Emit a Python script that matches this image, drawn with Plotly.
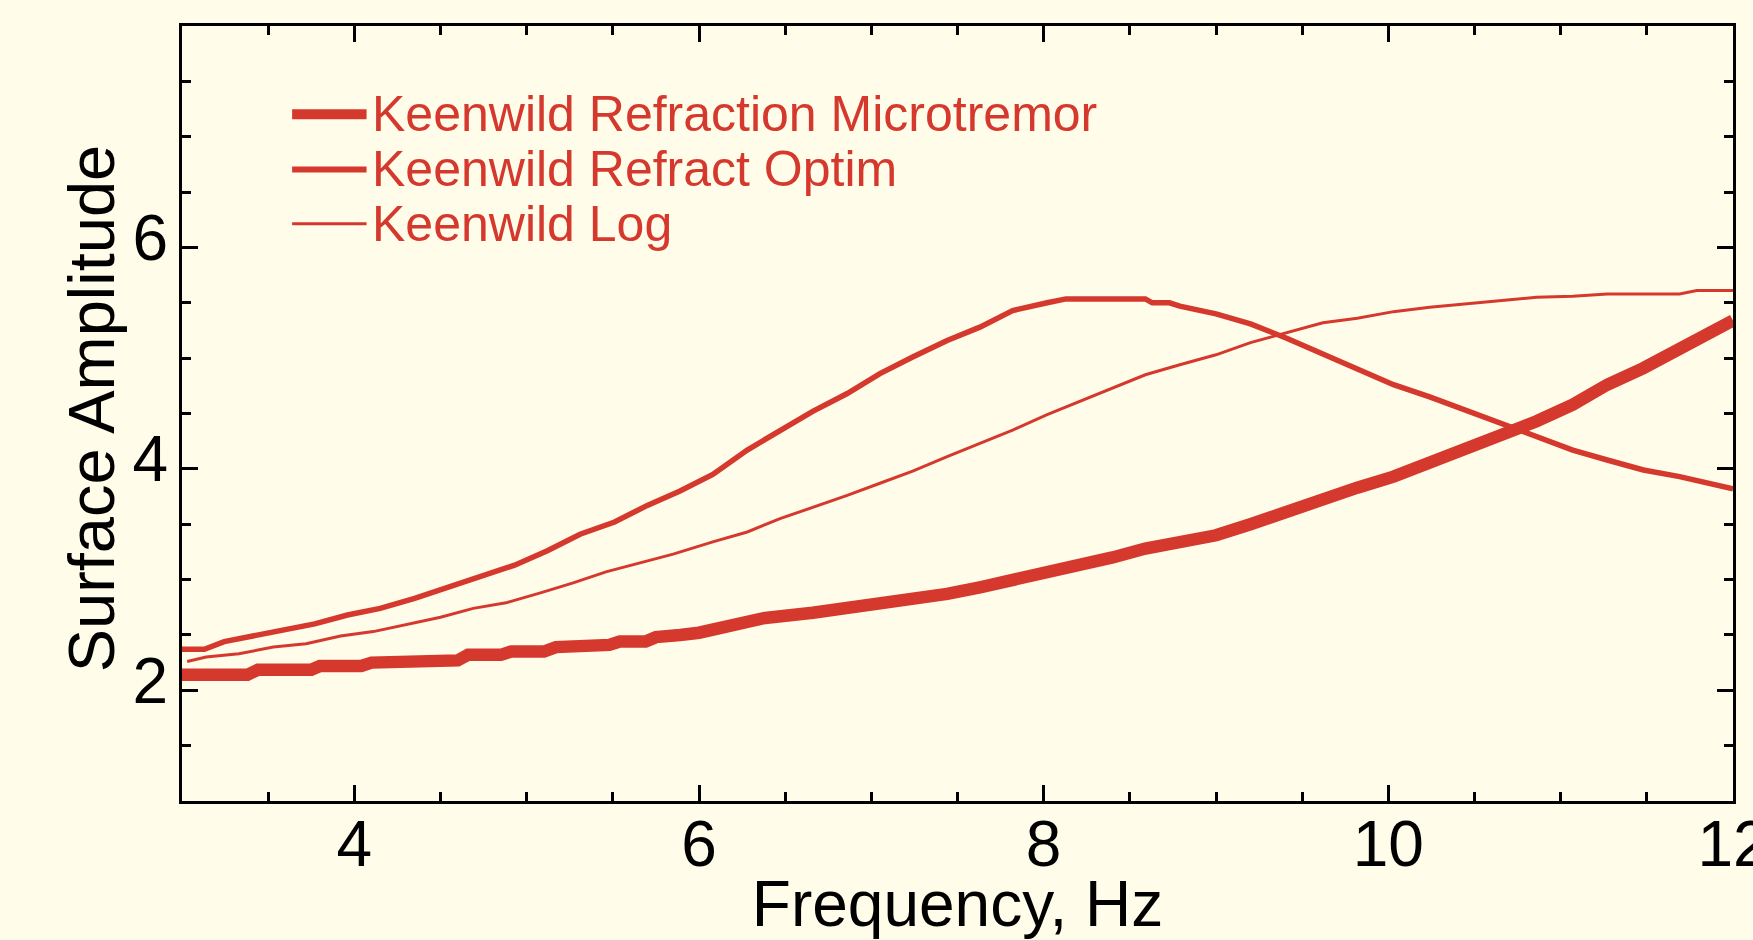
import plotly.graph_objects as go

# ---- data ----
micro_x = [3.0, 3.38, 3.44, 3.75, 3.80, 4.04, 4.10, 4.35, 4.40, 4.60, 4.66, 4.85, 4.91, 5.10,
           5.17, 5.28, 5.31, 5.48, 5.54, 5.69, 5.75, 5.85, 5.89, 6.0, 6.37, 6.66, 6.86, 7.05,
           7.24, 7.44, 7.63, 7.82, 8.02, 8.21, 8.40, 8.59, 8.79, 9.0, 9.20, 9.41, 9.62, 9.82,
           10.03, 10.24, 10.45, 10.65, 10.86, 11.07, 11.27, 11.48, 11.69, 11.90, 12.0]
micro_y = [2.14, 2.14, 2.185, 2.185, 2.22, 2.22, 2.25, 2.25, 2.27, 2.27, 2.32, 2.32, 2.35, 2.35,
           2.39, 2.39, 2.41, 2.41, 2.44, 2.44, 2.48, 2.48, 2.50, 2.52, 2.65, 2.70, 2.74, 2.78,
           2.83, 2.87, 2.93, 2.99, 3.06, 3.13, 3.20, 3.28, 3.33, 3.40, 3.50, 3.62, 3.72, 3.83,
           3.93, 4.05, 4.17, 4.28, 4.43, 4.58, 4.76, 4.91, 5.08, 5.24, 5.34]

optim_x = [3.0, 3.13, 3.245, 3.48, 3.77, 3.96, 4.15, 4.35, 4.54, 4.73, 4.93, 5.12, 5.31, 5.51,
           5.70, 5.89, 6.08, 6.28, 6.47, 6.66, 6.86, 7.05, 7.24, 7.44, 7.63, 7.82, 8.02, 8.13,
           8.59, 8.63, 8.73, 8.79, 9.0, 9.20, 9.41, 9.62, 9.82, 10.03, 10.24, 10.45, 10.65,
           10.86, 11.07, 11.27, 11.48, 11.69, 11.90, 12.0]
optim_y = [2.37, 2.37, 2.44, 2.51, 2.60, 2.68, 2.74, 2.83, 2.93, 3.02, 3.13, 3.26, 3.41, 3.52,
           3.67, 3.80, 3.95, 4.17, 4.34, 4.52, 4.68, 4.86, 5.01, 5.16, 5.28, 5.43, 5.50, 5.535,
           5.535, 5.50, 5.50, 5.47, 5.40, 5.31, 5.18, 5.04, 4.91, 4.76, 4.65, 4.53, 4.41,
           4.29, 4.17, 4.08, 3.99, 3.93, 3.85, 3.82]

log_x = [3.03, 3.14, 3.33, 3.53, 3.72, 3.92, 4.11, 4.30, 4.50, 4.69, 4.88, 5.08, 5.27, 5.46,
         5.66, 5.85, 6.08, 6.28, 6.47, 6.66, 6.86, 7.05, 7.24, 7.44, 7.63, 7.82, 8.02, 8.21,
         8.40, 8.59, 8.79, 9.0, 9.20, 9.41, 9.62, 9.82, 10.03, 10.24, 10.45, 10.65, 10.86,
         11.07, 11.27, 11.69, 11.79, 12.0]
log_y = [2.26, 2.30, 2.33, 2.39, 2.42, 2.49, 2.53, 2.59, 2.66, 2.74, 2.79, 2.88, 2.97, 3.07,
         3.15, 3.23, 3.34, 3.43, 3.55, 3.65, 3.76, 3.87, 3.98, 4.11, 4.23, 4.35, 4.49, 4.61,
         4.73, 4.85, 4.94, 5.03, 5.14, 5.23, 5.32, 5.36, 5.42, 5.46, 5.49, 5.52, 5.55,
         5.56, 5.58, 5.58, 5.61, 5.61]

series_names = ["Keenwild Refraction Microtremor", "Keenwild Refract Optim", "Keenwild Log"]
x_tick_vals = [4, 6, 8, 10, 12]
x_tick_labels = ["4", "6", "8", "10", "12"]
y_tick_vals = [2, 4, 6]
y_tick_labels = ["2", "4", "6"]

RED = "#D5392E"
BG = "#FFFCEA"
FONT = "Liberation Sans, Arial, Helvetica, sans-serif"
widths = [12.5, 5.5, 3]

fig = go.Figure()
for xs, ys, name, w in zip([micro_x, optim_x, log_x], [micro_y, optim_y, log_y], series_names, widths):
    fig.add_trace(go.Scatter(x=xs, y=ys, mode="lines", name=name,
                             line=dict(color=RED, width=w), showlegend=False))

# manual legend (in-plot, line sample + text)
leg_y = [0.886, 0.815, 0.745]
for name, w, yy in zip(series_names, [10, 6, 3], leg_y):
    fig.add_shape(type="line", xref="paper", yref="paper", x0=0.071, x1=0.119, y0=yy, y1=yy,
                  line=dict(color=RED, width=w))
    fig.add_annotation(text=name, xref="paper", yref="paper", x=0.121, y=yy,
                       xanchor="left", yanchor="middle", showarrow=False,
                       font=dict(family=FONT, size=50, color=RED))

# y-axis title
fig.add_annotation(text="Surface Amplitude", xref="paper", yref="paper", x=-0.0585, y=0.507,
                   xanchor="center", yanchor="middle", textangle=-90, showarrow=False,
                   font=dict(family=FONT, size=65, color="black"))

axis_common = dict(showline=True, linecolor="black", linewidth=3, mirror="allticks",
                   ticks="inside", tickwidth=3, tickcolor="black", showgrid=False,
                   zeroline=False, automargin=False, ticklabeloverflow="allow",
                   tickfont=dict(family=FONT, size=64, color="black"))

fig.update_xaxes(range=[3, 12], tickmode="array", tickvals=x_tick_vals,
                 ticktext=x_tick_labels, ticklen=16, ticklabelstandoff=-15,
                 minor=dict(tickmode="array", tickvals=[3.5, 4.5, 5, 5.5, 6.5, 7, 7.5, 8.5, 9, 9.5,
                                                         10.5, 11, 11.5],
                            ticks="inside", ticklen=9, tickwidth=3, tickcolor="black"),
                 title=dict(text="Frequency, Hz", font=dict(family=FONT, size=64, color="black"),
                            standoff=9),
                 **axis_common)
fig.update_yaxes(range=[1, 8], tickmode="array", tickvals=y_tick_vals,
                 ticktext=y_tick_labels, ticklen=16, ticklabelshift=-10, ticklabelstandoff=-2,
                 minor=dict(tickmode="array", tickvals=[1.5, 2.5, 3, 3.5, 4.5, 5, 5.5, 6.5, 7, 7.5],
                            ticks="inside", ticklen=9, tickwidth=3, tickcolor="black"),
                 **axis_common)

fig.update_layout(width=1753, height=940, paper_bgcolor=BG, plot_bgcolor=BG,
                  margin=dict(l=182, r=20, t=26, b=139), showlegend=False)

fig.write_html("out.html")
